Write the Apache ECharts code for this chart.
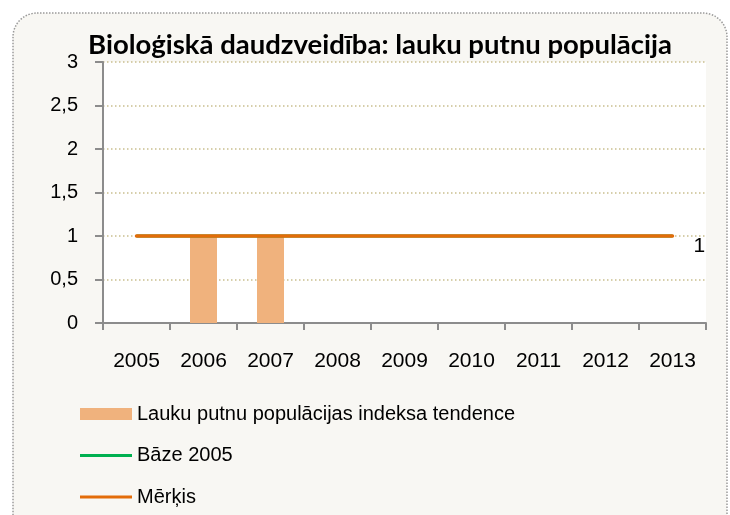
<!DOCTYPE html>
<html>
<head>
<meta charset="utf-8">
<script src="https://cdn.jsdelivr.net/npm/echarts@6/dist/echarts.min.js"></script>
<style>
  html, body { margin: 0; padding: 0; background: #ffffff; }
  #chart { width: 730px; height: 515px; }
</style>
</head>
<body>
<div id="chart"></div>
<script>
  const years = ["2005", "2006", "2007", "2008", "2009", "2010", "2011", "2012", "2013"];
  const trendValues = [null, 1, 1, null, null, null, null, null, null];
  const baseValues = [1, 1, 1, 1, 1, 1, 1, 1, 1];
  const targetValues = [1, 1, 1, 1, 1, 1, 1, 1, 1];
  const seriesNames = ["Lauku putnu populācijas indeksa tendence", "Bāze 2005", "Mērķis"];

  const textFont = "'Liberation Sans', Arial, sans-serif";
  const gridColor = "#c9bf8f";
  const axisColor = "#8c8c8c";
  // thin horizontal bar used as legend icon for the two lines
  const lineIcon = "path://M0,0 L55,0 L55,3 L0,3 Z";

  const chart = echarts.init(document.getElementById("chart"));
  const lastIndex = targetValues.length - 1;

  chart.setOption({
    backgroundColor: "#ffffff",
    animation: false,
    textStyle: { fontFamily: textFont, color: "#000" },
    graphic: [
      {
        type: "rect",
        z: -10,
        shape: { x: 13, y: 13, width: 714, height: 540, r: 24 },
        style: { fill: "#f8f7f3", stroke: "#9a9a9a", lineWidth: 1.5, lineDash: [1.5, 1.5] }
      }
    ],
    title: {
      text: "Bioloģiskā daudzveidība: lauku putnu populācija",
      left: 375,
      textAlign: "center",
      top: 26,
      textStyle: { fontFamily: "Lato, sans-serif", fontWeight: "bold", fontSize: 27.5, color: "#000" }
    },
    grid: {
      left: 103, right: 24, top: 62, bottom: 192,
      show: true, backgroundColor: "#ffffff", borderWidth: 0
    },
    legend: {
      orient: "vertical",
      left: 80,
      top: 404,
      padding: 0,
      itemWidth: 52,
      itemHeight: 12,
      itemGap: 21.5,
      symbolKeepAspect: true,
      textStyle: { fontFamily: textFont, fontSize: 20, lineHeight: 20, color: "#000" },
      data: [
        { name: seriesNames[0], icon: "rect" },
        { name: seriesNames[1], icon: lineIcon },
        { name: seriesNames[2], icon: lineIcon }
      ]
    },
    xAxis: {
      type: "category",
      data: years,
      boundaryGap: true,
      axisLine: { show: true, lineStyle: { color: axisColor, width: 2 } },
      axisTick: { show: true, interval: 0, length: 7, lineStyle: { color: axisColor, width: 2 } },
      axisLabel: { interval: 0, fontSize: 21, color: "#000", margin: 28 }
    },
    yAxis: {
      type: "value",
      min: 0,
      max: 3,
      interval: 0.5,
      axisLine: { show: true, lineStyle: { color: axisColor, width: 2 } },
      axisTick: { show: true, length: 8, lineStyle: { color: axisColor, width: 2 } },
      axisLabel: {
        fontSize: 20, color: "#000", margin: 25,
        formatter: v => String(v).replace(".", ",")
      },
      splitLine: { show: true, lineStyle: { color: gridColor, width: 1.5, type: [1.5, 2.5] } }
    },
    series: [
      {
        name: seriesNames[0],
        type: "bar",
        data: trendValues,
        barWidth: 27,
        itemStyle: { color: "#f0b27d" }
      },
      {
        name: seriesNames[1],
        type: "line",
        data: baseValues,
        symbol: "none",
        lineStyle: { color: "#00b050", width: 3 },
        itemStyle: { color: "#00b050" }
      },
      {
        name: seriesNames[2],
        type: "line",
        data: targetValues.map((v, i) => i === lastIndex
          ? { value: v, label: { show: true, position: "right", offset: [16, 10], fontSize: 21, color: "#000" } }
          : v),
        symbol: "circle",
        symbolSize: 0,
        showSymbol: true,
        lineStyle: { color: "#e36c09", width: 3.5, cap: "round" },
        itemStyle: { color: "#e36c09" }
      }
    ]
  });
</script>
</body>
</html>
